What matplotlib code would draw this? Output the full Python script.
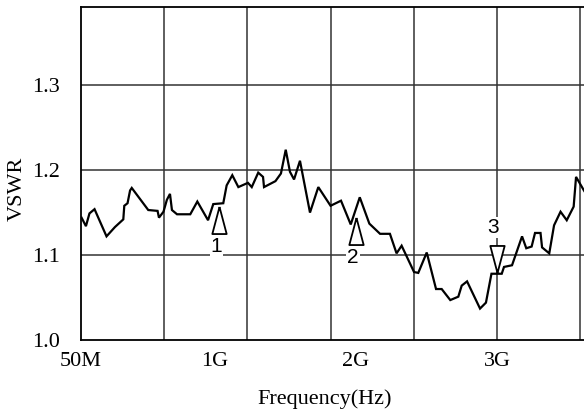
import matplotlib
matplotlib.use("Agg")
import matplotlib.pyplot as plt
import numpy as np

# VSWR trace, frequency in GHz
freq_ghz = [0.054, 0.085, 0.110, 0.146, 0.231, 0.291, 0.350, 0.357, 0.380, 0.398,
            0.410, 0.527, 0.593, 0.603, 0.635, 0.659, 0.681, 0.695, 0.731, 0.825,
            0.875, 0.951, 0.988, 1.059, 1.083, 1.123, 1.166, 1.234, 1.261, 1.307,
            1.341, 1.348, 1.429, 1.468, 1.502, 1.532, 1.561, 1.603, 1.674, 1.733,
            1.820, 1.894, 1.963, 2.027, 2.095, 2.171, 2.241, 2.288, 2.324, 2.412,
            2.442, 2.502, 2.568, 2.608, 2.669, 2.726, 2.750, 2.788, 2.880, 2.922,
            2.961, 3.034, 3.050, 3.107, 3.178, 3.208, 3.246, 3.270, 3.309, 3.320,
            3.371, 3.405, 3.451, 3.495, 3.544, 3.561, 3.617, 3.660]
vswr = [1.144, 1.134, 1.149, 1.154, 1.122, 1.133, 1.142, 1.158, 1.161, 1.176,
        1.179, 1.153, 1.152, 1.144, 1.151, 1.165, 1.172, 1.153, 1.148, 1.148,
        1.163, 1.141, 1.160, 1.161, 1.182, 1.194, 1.180, 1.185, 1.180, 1.197,
        1.192, 1.180, 1.187, 1.196, 1.224, 1.198, 1.189, 1.211, 1.150, 1.180,
        1.158, 1.164, 1.136, 1.168, 1.137, 1.125, 1.125, 1.102, 1.111, 1.080,
        1.079, 1.103, 1.060, 1.060, 1.047, 1.051, 1.064, 1.069, 1.037, 1.044,
        1.078, 1.078, 1.086, 1.088, 1.122, 1.108, 1.110, 1.126, 1.126, 1.109,
        1.102, 1.135, 1.151, 1.141, 1.157, 1.192, 1.176, 1.165]

# markers
mk_freq = [1.03, 2.0, 3.0]
mk_vswr = [1.141, 1.128, 1.095]
mk_text = ["1", "2", "3"]
mk_up = [True, True, False]

xtick_pos = [0.05, 1.0, 2.0, 3.0]
xtick_lab = ["50M", "1G", "2G", "3G"]
ytick_pos = [1.0, 1.1, 1.2, 1.3]
ytick_lab = ["1.0", "1.1", "1.2", "1.3"]

plt.rcParams['font.family'] = ['Liberation Serif', 'DejaVu Serif']

W, H = 584, 420
fig = plt.figure(figsize=(W / 100, H / 100), dpi=100)
x0, xdiv = 0.05, 0.59
xmax = x0 + 10 * xdiv
px_per_ghz = 141.0
ax_w = (xmax - x0) * px_per_ghz
ax = fig.add_axes([81 / W, 80 / H, ax_w / W, 333 / H])

ax.set_xlim(x0, xmax)
ax.set_ylim(1.0, 1.392)

# grid lines
for k in range(1, 10):
    ax.axvline(x0 + k * xdiv, color='#333333', lw=1.1, zorder=1)
for y in [1.1, 1.2, 1.3]:
    ax.axhline(y, color='#333333', lw=1.1, zorder=1)

ax.plot(freq_ghz, vswr, color='black', lw=1.6, zorder=3, solid_joinstyle='miter')

tri_up = [(0, 1), (-0.53, -1), (0.53, -1), (0, 1)]
tri_dn = [(0, -1), (-0.53, 1), (0.53, 1), (0, -1)]
for f, v, t, up in zip(mk_freq, mk_vswr, mk_text, mk_up):
    ax.plot(f, v, marker=tri_up if up else tri_dn, ms=19.5, mfc='white',
            mec='black', mew=1.3, zorder=4, ls='none')
    dy = -0.031 if up else 0.037
    ax.text(f - 0.02 if up else f - 0.03, v + dy, t, ha='center', va='center',
            fontsize=15, family=['Liberation Sans', 'DejaVu Sans'], zorder=5,
            bbox=dict(boxstyle='square,pad=0.05', fc='white', ec='none'))

ax.set_xticks(xtick_pos)
ax.set_xticklabels(xtick_lab, fontsize=16)
ax.set_yticks(ytick_pos)
ax.set_yticklabels(ytick_lab, fontsize=16)
ax.tick_params(length=0)
ax.tick_params(axis='x', pad=9)
ax.tick_params(axis='y', pad=15)
for s in ax.spines.values():
    s.set_linewidth(1.3)

fig.text(325 / W, 1 - 399 / H, "Frequency(Hz)", ha='center', va='center', fontsize=16)
fig.text(17 / W, 1 - 189 / H, "VSWR", ha='center', va='center', rotation=90, fontsize=16)

fig.savefig("out.png", dpi=100)
